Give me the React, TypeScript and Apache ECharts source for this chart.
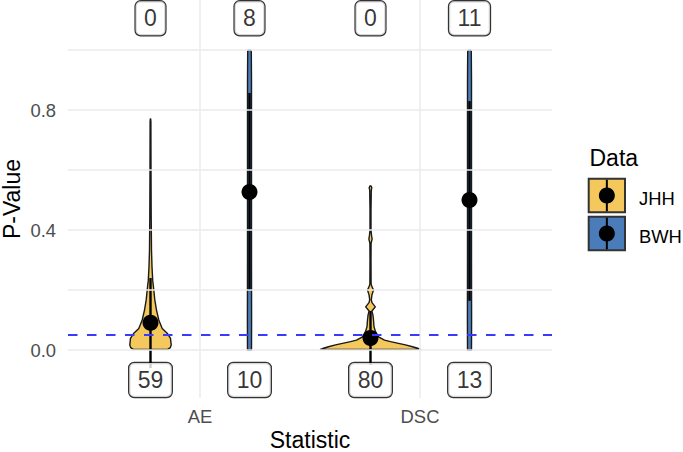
import { useEffect, useRef } from 'react';
import * as echarts from 'echarts';

// ---- data ----
const statistics = ['AE', 'DSC'];
const groups = ['JHH', 'BWH'];
const yTicks = [0, 0.4, 0.8];
const yGrid = [0, 0.2, 0.4, 0.6, 0.8, 1.0];
const pThreshold = 0.05;
const xTitle = 'Statistic';
const yTitle = 'P-Value';
const legendTitle = 'Data';

// mean (point) and range (error bar) per statistic
const jhhMean = [0.091, 0.04];
const bwhMean = [0.527, 0.5];
const jhhLow = [-0.06, -0.05];
const jhhHigh = [0.24, 0.13];
const bwhLow = [0.2, 0.164];
const bwhHigh = [0.857, 0.83];

// counts shown in boxes
const jhhCountTop = [0, 0];
const bwhCountTop = [8, 11];
const jhhCountBottom = [59, 80];
const bwhCountBottom = [10, 13];
const countTopY = 1.106;
const countBottomY = -0.1;

// violin density profiles: [p-value, half width (density, px at reference scale)]
const jhhAeViolin: [number, number][] = [
  [0.002, 17.3], [0.008, 19.8], [0.017, 20.7], [0.039, 20], [0.056, 16.7], [0.072, 11.7],
  [0.1, 8.3], [0.133, 6], [0.167, 4.3], [0.2, 3.3], [0.233, 2.2], [0.278, 1.5],
  [0.333, 1.0], [0.444, 0.7], [0.611, 0.5], [0.76, 0.4], [0.77, 0.2],
];
const jhhDscViolin: [number, number][] = [
  [0.002, 50], [0.006, 47], [0.011, 42], [0.017, 35], [0.022, 28], [0.028, 20], [0.033, 14],
  [0.044, 8], [0.061, 5], [0.078, 3.5], [0.1, 3], [0.117, 2.4], [0.13, 1.4],
  [0.144, 4.8], [0.158, 1.5], [0.167, 0.8], [0.183, 1.4], [0.2, 3.0], [0.215, 1.0],
  [0.222, 0.6], [0.3, 0.5], [0.356, 0.6], [0.37, 1.6], [0.383, 1.0], [0.4, 0.5],
  [0.467, 0.5], [0.533, 0.8], [0.541, 1.3], [0.547, 0.6],
];
const bwhAeViolin: [number, number][] = [
  [0.0, 2.0], [0.1, 2.1], [0.3, 2.0], [0.6, 2.0], [0.9, 2.0], [0.995, 1.8], [1.0, 1.2],
];
const bwhDscViolin: [number, number][] = [
  [0.0, 2.0], [0.1, 2.1], [0.3, 2.0], [0.6, 2.0], [0.9, 2.0], [0.995, 1.8], [1.0, 1.2],
];

// ---- style ----
const JHH_COLOR = '#F4C85C';
const BWH_COLOR = '#4A7CB9';
const FONT = '"Liberation Sans", Arial, Helvetica, sans-serif';
const DODGE = 0.225;
const REF_PX_PER_UNIT = 220;

function violinSeries(name: string, x: number, profile: [number, number][], fill: string) {
  return {
    type: 'custom',
    name,
    z: 2,
    silent: true,
    data: [[x, 0]],
    renderItem: (params: any, api: any) => {
      const pxPerUnit = api.size([1, 0])[0];
      const scale = pxPerUnit / REF_PX_PER_UNIT;
      const right: number[][] = [];
      const left: number[][] = [];
      for (const [v, w] of profile) {
        const c = api.coord([x, v]);
        right.push([c[0] + w * scale, c[1]]);
        left.push([c[0] - w * scale, c[1]]);
      }
      const pts = right.concat(left.reverse());
      return {
        type: 'polygon',
        shape: { points: pts },
        style: { fill, stroke: '#1a1a1a', lineWidth: 1.4, lineJoin: 'round' },
      };
    },
  };
}

export default function App() {
  const ref = useRef<HTMLDivElement>(null);
  useEffect(() => {
    document.body.style.margin = '0';
    if (!ref.current) return;
    const chart = echarts.init(ref.current, undefined, { renderer: 'svg' });

    const xJ = statistics.map((_, i) => i + 1 - DODGE);
    const xB = statistics.map((_, i) => i + 1 + DODGE);

    const errData = [
      ...statistics.map((_, i) => [xJ[i], jhhLow[i], jhhHigh[i]]),
      ...statistics.map((_, i) => [xB[i], bwhLow[i], bwhHigh[i]]),
    ];
    const meanData = [
      ...statistics.map((_, i) => [xJ[i], jhhMean[i]]),
      ...statistics.map((_, i) => [xB[i], bwhMean[i]]),
    ];
    const labelData = [
      ...statistics.map((_, i) => [xJ[i], countTopY, String(jhhCountTop[i])]),
      ...statistics.map((_, i) => [xB[i], countTopY, String(bwhCountTop[i])]),
      ...statistics.map((_, i) => [xJ[i], countBottomY, String(jhhCountBottom[i])]),
      ...statistics.map((_, i) => [xB[i], countBottomY, String(bwhCountBottom[i])]),
    ];

    const legendX = 588.7;
    const legendKeys = groups.map((g, i) => {
      const top = 178.7 + i * 38;
      return {
        type: 'group',
        children: [
          {
            type: 'rect',
            shape: { x: legendX, y: top, width: 36.3, height: 33.6 },
            style: { fill: i === 0 ? JHH_COLOR : BWH_COLOR, stroke: '#333333', lineWidth: 2 },
          },
          {
            type: 'line',
            shape: { x1: legendX + 18.15, y1: top + 1, x2: legendX + 18.15, y2: top + 32.6 },
            style: { stroke: '#000', lineWidth: 2 },
          },
          {
            type: 'circle',
            shape: { cx: legendX + 18.15, cy: top + 16.8, r: 8 },
            style: { fill: '#000' },
          },
          {
            type: 'text',
            x: 639,
            y: top + 19.3,
            style: {
              text: g, font: `18.4px ${FONT}`, fill: '#000',
              textAlign: 'left', textVerticalAlign: 'middle',
            },
          },
        ],
      };
    });

    chart.setOption({
      animation: false,
      backgroundColor: '#ffffff',
      textStyle: { fontFamily: FONT },
      grid: { left: 68, right: 131, top: 0, bottom: 54, containLabel: false, outerBoundsMode: 'none' },
      xAxis: {
        type: 'value',
        min: 0.4,
        max: 2.6,
        interval: 0.2,
        axisLine: { show: false },
        axisTick: { show: false },
        splitLine: { show: false },
        axisLabel: {
          fontSize: 18.4,
          color: '#4d4d4d',
          margin: 9,
          fontFamily: FONT,
          showMinLabel: true,
          showMaxLabel: true,
          formatter: (v: number) => {
            const idx = Math.round(v) - 1;
            if (Math.abs(v - Math.round(v)) < 1e-6 && idx >= 0 && idx < statistics.length) return statistics[idx];
            return '';
          },
        },
      },
      yAxis: {
        type: 'value',
        min: -0.16,
        max: 1.167,
        axisLine: { show: false },
        axisTick: { show: false },
        splitLine: { show: false },
        axisLabel: {
          customValues: yTicks,
          fontSize: 18.4,
          color: '#4d4d4d',
          margin: 12,
          fontFamily: FONT,
          formatter: (v: number) => v.toFixed(1),
        },
      },
      graphic: [
        {
          type: 'text',
          x: 310,
          y: 440,
          style: {
            text: xTitle, font: `23px ${FONT}`, fill: '#000',
            textAlign: 'center', textVerticalAlign: 'middle',
          },
        },
        {
          type: 'text',
          x: 11.5,
          y: 199,
          rotation: Math.PI / 2,
          style: {
            text: yTitle, font: `23px ${FONT}`, fill: '#000',
            textAlign: 'center', textVerticalAlign: 'middle',
          },
        },
        {
          type: 'text',
          x: 589.5,
          y: 157.5,
          style: {
            text: legendTitle, font: `23px ${FONT}`, fill: '#000',
            textAlign: 'left', textVerticalAlign: 'middle',
          },
        },
        ...legendKeys,
      ],
      series: [
        {
          type: 'line',
          name: 'grid',
          data: [],
          z: 0,
          silent: true,
          markLine: {
            silent: true,
            symbol: ['none', 'none'],
            label: { show: false },
            lineStyle: { color: '#ebebeb', width: 1.5, type: 'solid' },
            data: [
              ...yGrid.map((v) => ({ yAxis: v })),
              ...statistics.map((_, i) => ({ xAxis: i + 1 })),
            ],
          },
        },
        violinSeries('JHH AE', xJ[0], jhhAeViolin, JHH_COLOR),
        violinSeries('JHH DSC', xJ[1], jhhDscViolin, JHH_COLOR),
        violinSeries('BWH AE', xB[0], bwhAeViolin, BWH_COLOR),
        violinSeries('BWH DSC', xB[1], bwhDscViolin, BWH_COLOR),
        {
          type: 'custom',
          name: 'range',
          z: 3,
          silent: true,
          data: errData,
          renderItem: (params: any, api: any) => {
            const a = api.coord([api.value(0), api.value(1)]);
            const b = api.coord([api.value(0), api.value(2)]);
            return {
              type: 'line',
              shape: { x1: a[0], y1: a[1], x2: b[0], y2: b[1] },
              style: { stroke: '#000', lineWidth: 2.4 },
            };
          },
        },
        {
          type: 'scatter',
          name: 'mean',
          z: 4,
          silent: true,
          symbol: 'circle',
          symbolSize: 16,
          itemStyle: { color: '#000', opacity: 1 },
          data: meanData,
        },
        {
          type: 'line',
          name: 'threshold',
          data: [],
          z: 5,
          silent: true,
          markLine: {
            silent: true,
            symbol: ['none', 'none'],
            label: { show: false },
            z: 5,
            lineStyle: { color: '#3a3aff', width: 1.8, type: [9.5, 9.5], opacity: 1 },
            data: [{ yAxis: pThreshold }],
          },
        },
        {
          type: 'scatter',
          name: 'counts',
          z: 6,
          silent: true,
          symbolSize: 1,
          itemStyle: { color: 'rgba(0,0,0,0)' },
          data: labelData,
          label: {
            show: true,
            position: 'inside',
            formatter: (p: any) => p.value[2],
            fontSize: 23,
            lineHeight: 23,
            fontFamily: FONT,
            color: '#000',
            backgroundColor: '#fff',
            borderColor: '#000',
            borderWidth: 1.2,
            borderRadius: 5,
            padding: [5.5, 8.5, 5.5, 8.5],
          },
        },
      ],
    });
    return () => chart.dispose();
  }, []);
  return <div ref={ref} style={{ width: 683, height: 452 }} />;
}
